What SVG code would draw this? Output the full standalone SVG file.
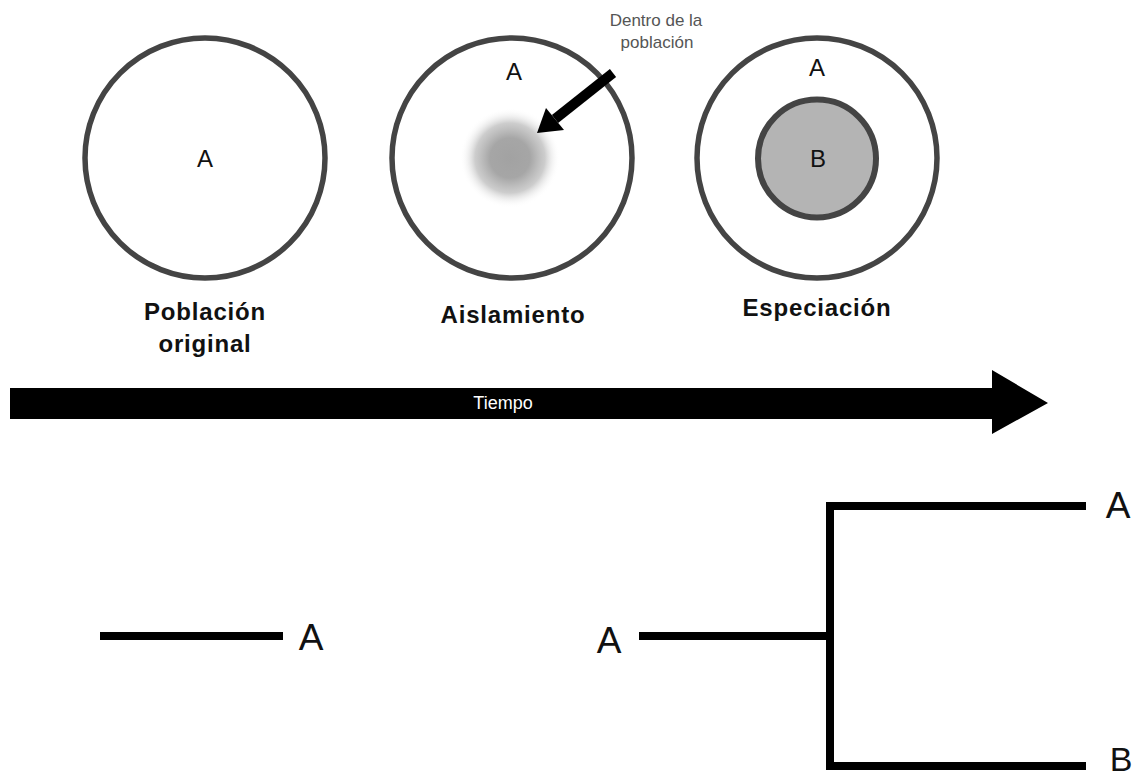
<svg xmlns="http://www.w3.org/2000/svg" width="1138" height="779" viewBox="0 0 1138 779">
<style>
.ring{fill:none;stroke:#444;stroke-width:5.5}
.t{font-family:"Liberation Sans",Arial,sans-serif;fill:#111;text-anchor:middle}
.lbl{font-family:"Liberation Sans",Arial,sans-serif;font-weight:bold;font-size:24px;letter-spacing:0.8px;fill:#111;text-anchor:middle}
.big{font-family:"Liberation Sans",Arial,sans-serif;font-size:37px;fill:#111;text-anchor:middle}
.br{stroke:#000;stroke-width:8;fill:none}
</style>
<defs>
<radialGradient id="blob" cx="0.5" cy="0.5" r="0.5">
<stop offset="0" stop-color="#a2a2a2"/>
<stop offset="0.4" stop-color="#a6a6a6"/>
<stop offset="0.7" stop-color="#c4c4c4" stop-opacity="0.85"/>
<stop offset="1" stop-color="#fff" stop-opacity="0"/>
</radialGradient>
</defs>
<rect width="1138" height="779" fill="#fff"/>
<g id="original">
<circle class="ring" cx="205" cy="158" r="120"/>
<text class="t" x="205" y="167" font-size="24">A</text>
<text class="lbl" x="205" y="320">Población</text>
<text class="lbl" x="205" y="352">original</text>
</g>
<g id="aislamiento">
<circle class="ring" cx="512" cy="158" r="120"/>
<circle cx="510" cy="158" r="50" fill="url(#blob)"/>
<text class="t" x="514" y="80" font-size="24">A</text>
<text class="lbl" x="513" y="323">Aislamiento</text>
</g>
<g id="especiacion">
<circle class="ring" cx="817" cy="158" r="120"/>
<circle cx="817" cy="158.5" r="59" fill="#b4b4b4" stroke="#444" stroke-width="6"/>
<text class="t" x="817" y="76" font-size="24">A</text>
<text class="t" x="818" y="167" font-size="24">B</text>
<text class="lbl" x="817" y="316">Especiación</text>
</g>
<g id="nota">
<text class="t" x="656" y="26" font-size="17" style="fill:#555">Dentro de la</text>
<text class="t" x="657" y="48" font-size="17" style="fill:#555">población</text>
</g>
<g id="connectors">
<line x1="613" y1="73" x2="555" y2="119" stroke="#000" stroke-width="10"/>
<polygon points="537,133 546,108 564,130" fill="#000"/>
<polygon points="10,388 992,388 992,370 1048,403 992,434 992,419 10,419" fill="#000"/>
<path class="br" d="M100 636 H283"/>
<path class="br" d="M639 636 H830"/>
<path class="br" d="M1086 506 H830 V766 H1086"/>
</g>
<g id="tiempo">
<text class="t" x="503" y="409" font-size="18" style="fill:#fff">Tiempo</text>
</g>
<g id="arbol-labels">
<text class="big" x="311" y="650">A</text>
<text class="big" x="609" y="653">A</text>
<text class="big" x="1118" y="518">A</text>
<text class="big" x="1121" y="771" font-size="34" style="font-size:34px">B</text>
</g>
</svg>
